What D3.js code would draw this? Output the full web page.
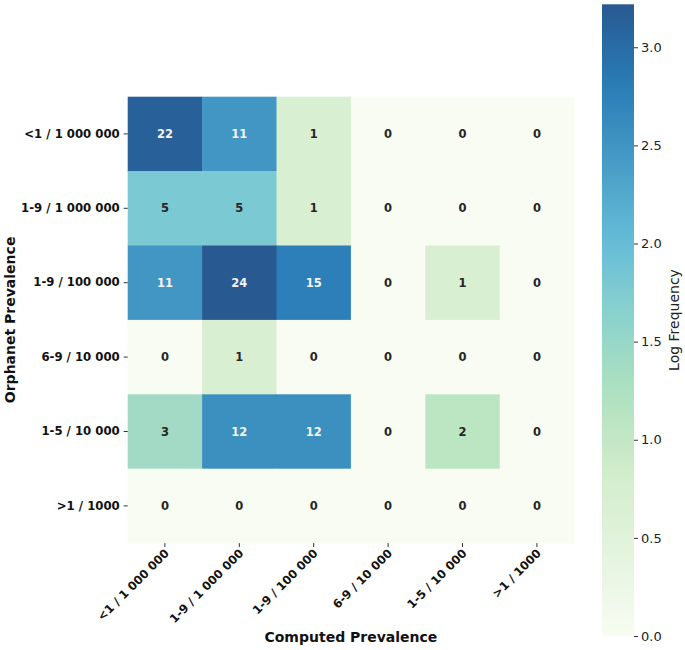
<!DOCTYPE html>
<html>
<head>
<meta charset="utf-8">
<script src="https://cdn.jsdelivr.net/npm/d3@7"></script>
<style>
  body { margin: 0; background: #fff; }
  svg { display: block; }
  svg text { font-family: "DejaVu Sans", sans-serif; }
</style>
</head>
<body>
<svg id="chart" width="685" height="650"></svg>
<script>
// Orphanet vs computed prevalence classes
const rowLabels = ['<1 / 1 000 000', '1-9 / 1 000 000', '1-9 / 100 000', '6-9 / 10 000', '1-5 / 10 000', '>1 / 1000'];
const colLabels = ['<1 / 1 000 000', '1-9 / 1 000 000', '1-9 / 100 000', '6-9 / 10 000', '1-5 / 10 000', '>1 / 1000'];
const counts = [
  [22, 11, 1, 0, 0, 0],
  [5, 5, 1, 0, 0, 0],
  [11, 24, 15, 0, 1, 0],
  [0, 1, 0, 0, 0, 0],
  [3, 12, 12, 0, 2, 0],
  [0, 0, 0, 0, 0, 0]
];
const cbarTicks = [0, 0.5, 1, 1.5, 2, 2.5, 3];

// GnBu, linearly interpolated like matplotlib's colormap
const gnbu = ['#f7fcf0', '#e0f3db', '#ccebc5', '#a8ddb5', '#7bccc4', '#4eb3d3', '#2b8cbe', '#0868ac', '#084081'];

(function heatmap(){
  const svg = d3.select('#chart');
  const mLeft = 127.7, mTop = 96.7, size = 446.4;
  const FONT = '"DejaVu Sans", sans-serif';

  const cells = [];
  counts.forEach((row, i) => row.forEach((v, j) => cells.push({ i, j, v, lv: Math.log1p(v) })));

  const maxLog = d3.max(cells, d => d.lv);
  const color = d3.scaleLinear()
    .domain(gnbu.map((c, k) => k / (gnbu.length - 1) * maxLog))
    .range(gnbu)
    .interpolate(d3.interpolateRgb)
    .clamp(true);
  // slightly washed, like the reference rendering
  const fill = v => d3.interpolateRgb('#ffffff', color(v))(0.87);

  const x = d3.scaleBand().domain(d3.range(colLabels.length)).range([mLeft, mLeft + size]);
  const y = d3.scaleBand().domain(d3.range(rowLabels.length)).range([mTop, mTop + size]);

  const g = svg.append('g');

  g.selectAll('rect.cell')
    .data(cells)
    .join('rect')
      .attr('class', 'cell')
      .attr('x', d => x(d.j))
      .attr('y', d => y(d.i))
      .attr('width', x.bandwidth() + 0.5)
      .attr('height', y.bandwidth() + 0.5)
      .attr('fill', d => fill(d.lv));

  g.selectAll('text.ann')
    .data(cells)
    .join('text')
      .attr('class', 'ann')
      .attr('x', d => x(d.j) + x.bandwidth() / 2)
      .attr('y', d => y(d.i) + y.bandwidth() / 2)
      .attr('dy', '0.36em')
      .attr('text-anchor', 'middle')
      .style('font-size', '11.5px')
      .style('font-weight', 'bold')
      .attr('fill', d => {
        const c = d3.rgb(fill(d.lv));
        const lum = 0.2126 * c.r + 0.7152 * c.g + 0.0722 * c.b;
        return lum < 150 ? '#f4f4f4' : '#262626';
      })
      .text(d => d.v);

  // axes
  const xAxis = svg.append('g')
    .attr('transform', `translate(0,${mTop + size})`)
    .call(d3.axisBottom(x).tickSize(4).tickPadding(3).tickFormat(i => colLabels[i]))
    .attr('font-family', FONT);
  xAxis.select('.domain').remove();
  xAxis.selectAll('.tick line').attr('stroke', '#333');
  xAxis.selectAll('.tick text')
    .attr('fill', '#111')
    .style('font-size', '11.7px')
    .style('font-weight', 'bold')
    .attr('text-anchor', 'end')
    .attr('transform', 'translate(2,8) rotate(-45)')
    .attr('dy', '0.35em')
    .attr('y', 0);

  const yAxis = svg.append('g')
    .attr('transform', `translate(${mLeft},0)`)
    .call(d3.axisLeft(y).tickSize(4).tickPadding(4).tickFormat(i => rowLabels[i]))
    .attr('font-family', FONT);
  yAxis.select('.domain').remove();
  yAxis.selectAll('.tick line').attr('stroke', '#333');
  yAxis.selectAll('.tick text')
    .attr('fill', '#111')
    .style('font-size', '11.7px')
    .style('font-weight', 'bold');

  svg.append('text')
    .attr('x', mLeft + size / 2)
    .attr('y', 642)
    .attr('text-anchor', 'middle')
    .style('font-size', '14px')
    .style('font-weight', 'bold')
    .attr('fill', '#111')
    .text('Computed Prevalence');

  svg.append('text')
    .attr('transform', `translate(15,${mTop + size / 2}) rotate(-90)`)
    .attr('text-anchor', 'middle')
    .style('font-size', '14px')
    .style('font-weight', 'bold')
    .attr('fill', '#111')
    .text('Orphanet Prevalence');

  // colorbar
  const cbX = 602, cbW = 32, cbTop = 4.3, cbBot = 636;
  const cy = d3.scaleLinear().domain([0, maxLog]).range([cbBot, cbTop]);
  const grad = svg.append('defs').append('linearGradient')
    .attr('id', 'cbgrad')
    .attr('x1', 0).attr('y1', 1).attr('x2', 0).attr('y2', 0);
  grad.selectAll('stop')
    .data(d3.range(0, 1.0001, 0.05))
    .join('stop')
      .attr('offset', t => t)
      .attr('stop-color', t => fill(t * maxLog));

  svg.append('rect')
    .attr('x', cbX)
    .attr('y', cbTop)
    .attr('width', cbW)
    .attr('height', cbBot - cbTop)
    .attr('fill', 'url(#cbgrad)');

  const cAxis = svg.append('g')
    .attr('transform', `translate(${cbX + cbW},0)`)
    .call(d3.axisRight(cy).tickValues(cbarTicks).tickSize(4).tickPadding(3).tickFormat(d3.format('.1f')))
    .attr('font-family', FONT);
  cAxis.select('.domain').remove();
  cAxis.selectAll('.tick line').attr('stroke', '#333');
  cAxis.selectAll('.tick text')
    .attr('fill', '#222')
    .style('font-size', '13px');

  svg.append('text')
    .attr('transform', 'translate(679,320) rotate(-90)')
    .attr('text-anchor', 'middle')
    .style('font-size', '14px')
    .attr('fill', '#222')
    .text('Log Frequency');
})();
</script>
</body>
</html>
